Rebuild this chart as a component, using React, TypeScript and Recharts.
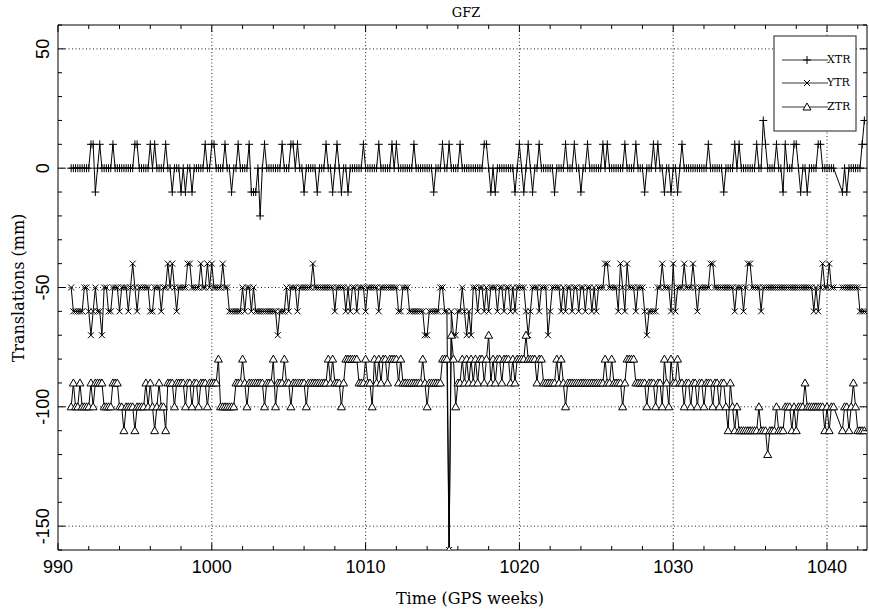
import { LineChart, Line, XAxis, YAxis, ReferenceLine } from "recharts";

// daily translation solutions (mm), one row per GPS week, first day = week 990 day 6
const FIRST_WEEK = 990 + 6 / 7;

const xtr = [
  0, 0, 0, 0, 0, 0, 0,
  0, 0, 10, 10, -10, 0, 10,
  0, 0, 0, 0, 0, 10, 0,
  0, 0, 0, 0, 0, 0, 0,
  0, 10, 10, 0, 0, 0, 0,
  0, 10, 0, 10, 0, 0, 0,
  0, 10, 0, 0, -10, 0, 0,
  0, -10, 0, -10, 0, 0, -10,
  0, 0, 0, 0, 0, 10, 0,
  0, 10, 10, 0, 0, 0, 0,
  10, 0, 0, -10, 0, 0, 10,
  0, 0, 0, 0, 10, -10, -10,
  -10, 0, -20, 0, 10, 0, 0,
  0, 0, 0, 0, 0, 10, 0,
  0, 0, 10, 10, 0, 10, 0,
  0, -10, 0, 0, 0, 0, 0,
  -10, 0, 0, 0, 10, 0, 0,
  -10, 0, 10, 0, -10, 0, 0,
  -10, 0, 0, 0, 0, 0, 0,
  10, 0, 0, 0, 0, 0, 0,
  10, 0, 0, 0, 0, 0, 10,
  0, 10, 0, 0, 0, 0, 0,
  0, 0, 10, 0, 0, 0, 0,
  0, 0, 0, 0, -10, 0, 0,
  0, 10, 0, 0, 10, 0, 0,
  0, 0, 10, 0, 0, 0, 0,
  0, 0, 0, 0, 0, 0, 10,
  10, 0, -10, 0, -10, 0, 0,
  0, 0, 0, 0, 0, 0, -10,
  0, 10, 0, -10, 0, 10, 0,
  -10, 0, 0, 10, 0, 0, 0,
  0, 0, 0, -10, 0, 0, 0,
  0, 10, 0, 0, 0, 10, 0,
  0, -10, 0, 0, 10, 0, 0,
  0, 0, 0, 0, 10, 0, 10,
  0, 0, 0, 0, 0, 0, 0,
  10, 0, 0, 0, 0, 10, 0,
  0, 0, -10, 0, 0, 0, 10,
  0, 10, 0, 0, -10, 0, 0,
  -10, 0, 0, -10, 0, 10, 0,
  0, 0, 0, 0, 0, 0, 0,
  0, 0, 0, 10, 0, 0, 0,
  0, 0, 0, -10, 0, 0, 0,
  0, 10, 0, 10, 0, 0, 0,
  0, 0, 0, 0, 10, 0, 0,
  20, 10, 0, 0, 0, 0, 10,
  0, 0, -10, 10, 0, 0, 0,
  10, 10, 0, -10, 0, 0, -10,
  0, 0, 0, 0, 10, 10, 0,
  0, 0, 0, 0, 0, null, null,
  null, -10, 0, -10, 0, 0, 0,
  0, 0, 0, 10, 20,
];

const ytr = [
  -50, -60, -60, -60, -60, -60, -50,
  -50, -60, -70, -60, -50, -60, -60,
  -70, -50, -50, -60, -60, -50, -50,
  -50, -60, -50, -50, -50, -60, -50,
  -40, -50, -60, -50, -50, -50, -50,
  -50, -60, -60, -50, -50, -50, -60,
  -50, -50, -40, -50, -40, -50, -60,
  -50, -50, -50, -50, -40, -40, -50,
  -50, -50, -50, -40, -50, -50, -40,
  -50, -40, -50, -50, -50, -50, -40,
  -50, -50, -60, -60, -60, -60, -60,
  -60, -50, -60, -50, -50, -60, -50,
  -60, -60, -60, -60, -60, -60, -60,
  -60, -60, -60, -70, -60, -60, -60,
  -50, -60, -50, -50, -50, -60, -50,
  -50, -50, -50, -50, -50, -40, -50,
  -50, -50, -50, -50, -50, -50, -50,
  -50, -60, -50, -50, -50, -50, -60,
  -50, -60, -50, -50, -60, -50, -50,
  -50, -60, -50, -50, -50, -50, -50,
  -60, -50, -50, -50, -50, -50, -50,
  -50, -50, -60, -60, -50, -50, -50,
  -60, -60, -60, -60, -60, -60, -60,
  -70, -70, -60, -60, -60, -60, -60,
  -50, -50, -60, -60, -160, -60, -70,
  -70, -60, -60, -50, -60, -70, -60,
  -70, -50, -50, -60, -50, -50, -60,
  -50, -60, -50, -50, -50, -60, -50,
  -50, -60, -50, -50, -60, -50, -60,
  -50, -50, -50, -50, -60, -70, -60,
  -50, -50, -50, -60, -50, -50, -50,
  -70, -60, -50, -50, -50, -50, -60,
  -50, -60, -50, -50, -60, -50, -50,
  -60, -50, -50, -60, -50, -50, -60,
  -50, -60, -50, -50, -50, -40, -40,
  -50, -50, -50, -50, -60, -40, -50,
  -60, -40, -50, -50, -50, -60, -50,
  -50, -50, -60, -70, -60, -60, -60,
  -60, -50, -50, -40, -50, -50, -50,
  -60, -40, -60, -50, -50, -50, -40,
  -50, -50, -50, -40, -50, -60, -50,
  -50, -50, -50, -50, -40, -40, -50,
  -50, -50, -50, -50, -50, -50, -50,
  -50, -60, -50, -50, -50, -60, -50,
  -40, -40, -50, -50, -50, -50, -60,
  -50, -50, -50, -50, -50, -50, -50,
  -50, -50, -50, -50, -50, -50, -50,
  -50, -50, -50, -50, -50, -50, -50,
  -50, -50, -60, -50, -60, -50, -40,
  -50, -50, -40, -50, -50, null, null,
  null, -50, -50, -50, -50, -50, -50,
  -50, -50, -60, -60, -60,
];

const ztr = [
  -100, -90, -100, -100, -90, -100, -100,
  -100, -100, -90, -100, -90, -90, -90,
  -90, -100, -100, -100, -100, -90, -90,
  -90, -100, -100, -110, -100, -100, -100,
  -100, -110, -100, -100, -100, -100, -90,
  -100, -90, -100, -110, -100, -90, -100,
  -100, -110, -90, -90, -90, -100, -90,
  -90, -90, -90, -100, -90, -90, -100,
  -90, -90, -100, -90, -90, -90, -100,
  -90, -90, -90, -90, -80, -100, -100,
  -100, -100, -100, -100, -100, -90, -90,
  -90, -80, -90, -100, -90, -90, -90,
  -90, -90, -90, -90, -100, -90, -90,
  -90, -80, -100, -90, -90, -90, -80,
  -90, -90, -100, -90, -90, -90, -90,
  -90, -90, -100, -90, -90, -90, -90,
  -90, -90, -90, -90, -90, -80, -90,
  -80, -90, -90, -90, -100, -90, -80,
  -80, -80, -80, -80, -80, -90, -90,
  -90, -80, -90, -90, -100, -80, -90,
  -80, -90, -80, -80, -90, -80, -80,
  -80, -80, -90, -80, -90, -90, -90,
  -90, -90, -90, -90, -90, -90, -80,
  -90, -100, -90, -90, -90, -90, -90,
  -90, -80, -80, -80, -160, -70, -80,
  -100, -90, -90, -80, -90, -80, -90,
  -80, -90, -80, -90, -80, -80, -90,
  -80, -70, -90, -80, -90, -80, -80,
  -90, -80, -80, -80, -90, -80, -90,
  -80, -80, -80, -80, -70, -80, -80,
  -80, -80, -90, -80, -80, -90, -90,
  -90, -90, -90, -90, -80, -90, -80,
  -90, -100, -90, -90, -90, -90, -90,
  -90, -90, -90, -90, -90, -90, -90,
  -90, -90, -90, -90, -90, -80, -90,
  -90, -80, -90, -90, -90, -90, -100,
  -90, -80, -80, -80, -80, -90, -90,
  -90, -90, -90, -100, -90, -90, -90,
  -100, -90, -90, -100, -80, -90, -100,
  -80, -90, -90, -80, -90, -90, -100,
  -90, -90, -100, -90, -90, -100, -90,
  -90, -100, -90, -90, -90, -100, -90,
  -90, -100, -90, -90, -100, -110, -90,
  -100, -110, -100, -110, -110, -110, -110,
  -110, -110, -110, -110, -110, -100, -110,
  -110, -110, -120, -110, -110, -110, -100,
  -110, -110, -110, -100, -100, -100, -110,
  -100, -110, -100, -100, -100, -90, -100,
  -100, -100, -100, -100, -100, -100, -100,
  -110, -100, -110, -100, -100, null, null,
  null, -110, -100, -100, -110, -100, -90,
  -100, -110, -110, -110, -110,
];

const xMajor = [990, 1000, 1010, 1020, 1030, 1040];
const xMinor = [990, 992, 994, 996, 998, 1000, 1002, 1004, 1006, 1008, 1010, 1012, 1014, 1016, 1018, 1020, 1022, 1024, 1026, 1028, 1030, 1032, 1034, 1036, 1038, 1040, 1042];
const yMajor = [-150, -100, -50, 0, 50];
const yMinor = [-160, -150, -140, -130, -120, -110, -100, -90, -80, -70, -60, -50, -40, -30, -20, -10, 0, 10, 20, 30, 40, 50, 60];

const data = xtr.map((v, i) => ({
  week: FIRST_WEEK + i / 7,
  xtr: v,
  ytr: ytr[i],
  ztr: ztr[i],
}));

const W = 869;
const H = 611;
const LEFT = 58;
const RIGHT = 867;
const TOP = 25;
const BOTTOM = 550;
const tickFont = "'Liberation Sans Narrow', 'Liberation Sans', Arial, sans-serif";
const textFont = "'DejaVu Serif', 'Liberation Serif', serif";

const plus = (p: any) =>
  p.cy == null ? <g key={`p${p.index}`} /> : (
    <path key={`p${p.index}`} d={`M${p.cx - 4},${p.cy}h8M${p.cx},${p.cy - 4}v8`} stroke="#000" strokeWidth={1} fill="none" />
  );
const cross = (p: any) =>
  p.cy == null ? <g key={`c${p.index}`} /> : (
    <path key={`c${p.index}`} d={`M${p.cx - 3},${p.cy - 3}l6,6M${p.cx - 3},${p.cy + 3}l6,-6`} stroke="#000" strokeWidth={1} fill="none" />
  );
const tri = (p: any) =>
  p.cy == null ? <g key={`t${p.index}`} /> : (
    <path key={`t${p.index}`} d={`M${p.cx},${p.cy - 4}L${p.cx + 4},${p.cy + 3}L${p.cx - 4},${p.cy + 3}Z`} stroke="#000" strokeWidth={1} fill="#fff" />
  );

const bottomTick = (p: any) => {
  const major = p.payload.value % 10 === 0;
  return (
    <g>
      <line x1={p.x} x2={p.x} y1={BOTTOM} y2={BOTTOM - (major ? 7 : 4)} stroke="#000" />
      {major && (
        <text x={p.x} y={BOTTOM + 23} textAnchor="middle" fontFamily={tickFont} fontSize={18} fill="#000">
          {p.payload.value}
        </text>
      )}
    </g>
  );
};
const topTick = (p: any) => {
  const major = p.payload.value % 10 === 0;
  return <line x1={p.x} x2={p.x} y1={TOP} y2={TOP + (major ? 7 : 4)} stroke="#000" />;
};
const leftTick = (p: any) => {
  const v = p.payload.value;
  const major = v % 50 === 0;
  return (
    <g>
      <line x1={LEFT} x2={LEFT + (major ? 7 : 4)} y1={p.y} y2={p.y} stroke="#000" />
      {major && (
        <text
          x={43}
          y={p.y}
          transform={`rotate(-90, 43, ${p.y})`}
          textAnchor="middle"
          dominantBaseline="central"
          fontFamily={tickFont}
          fontSize={18}
          fill="#000"
        >
          {v}
        </text>
      )}
    </g>
  );
};
const rightTick = (p: any) => {
  const major = p.payload.value % 50 === 0;
  return <line x1={RIGHT} x2={RIGHT - (major ? 7 : 4)} y1={p.y} y2={p.y} stroke="#000" />;
};

const legendRows = [
  { name: "XTR", y: 60, mark: "plus" },
  { name: "YTR", y: 83, mark: "cross" },
  { name: "ZTR", y: 107, mark: "tri" },
];

export default function App() {
  return (
    <div style={{ position: "absolute", left: 0, top: 0, width: W, height: H, background: "#fff" }}>
      <LineChart width={W} height={H} data={data} margin={{ top: 0, right: 0, bottom: 0, left: 0 }}>
        <XAxis xAxisId="b" dataKey="week" type="number" domain={[990, 1042.6]} ticks={xMinor} interval={0}
          height={H - BOTTOM} tick={bottomTick} tickLine={false} axisLine={{ stroke: "#000" }} allowDataOverflow />
        <XAxis xAxisId="t" orientation="top" dataKey="week" type="number" domain={[990, 1042.6]} ticks={xMinor} interval={0}
          height={TOP} tick={topTick} tickLine={false} axisLine={{ stroke: "#000" }} allowDataOverflow />
        <YAxis yAxisId="l" type="number" domain={[-160, 60]} ticks={yMinor} interval={0} width={LEFT}
          tick={leftTick} tickLine={false} axisLine={{ stroke: "#000" }} allowDataOverflow />
        <YAxis yAxisId="r" orientation="right" type="number" domain={[-160, 60]} ticks={yMinor} interval={0} width={W - RIGHT}
          tick={rightTick} tickLine={false} axisLine={{ stroke: "#000" }} allowDataOverflow />
        {xMajor.slice(1).map((v) => (
          <ReferenceLine key={`gx${v}`} xAxisId="b" yAxisId="l" x={v} stroke="#222" strokeDasharray="1 2.5" />
        ))}
        {yMajor.map((v) => (
          <ReferenceLine key={`gy${v}`} xAxisId="b" yAxisId="l" y={v} stroke="#222" strokeDasharray="1 2.5" />
        ))}
        <Line xAxisId="b" yAxisId="l" type="linear" dataKey="xtr" stroke="#000" strokeWidth={1} dot={plus}
          activeDot={false} connectNulls isAnimationActive={false} />
        <Line xAxisId="b" yAxisId="l" type="linear" dataKey="ytr" stroke="#000" strokeWidth={1} dot={cross}
          activeDot={false} connectNulls isAnimationActive={false} />
        <Line xAxisId="b" yAxisId="l" type="linear" dataKey="ztr" stroke="#000" strokeWidth={1} dot={tri}
          activeDot={false} connectNulls isAnimationActive={false} />
      </LineChart>
      <svg width={W} height={H} style={{ position: "absolute", left: 0, top: 0, pointerEvents: "none" }}>
        <text x={466} y={17} textAnchor="middle" fontFamily={textFont} fontSize={13}>GFZ</text>
        <text x={470} y={604} textAnchor="middle" fontFamily={textFont} fontSize={16}>Time (GPS weeks)</text>
        <text x={18} y={288} transform="rotate(-90, 18, 288)" textAnchor="middle" dominantBaseline="central"
          fontFamily={textFont} fontSize={16}>Translations (mm)</text>
        <rect x={774} y={36} width={82} height={95} fill="#fff" stroke="#444" strokeWidth={1.2} />
        {legendRows.map((r) => (
          <g key={r.name}>
            <line x1={782} x2={828} y1={r.y} y2={r.y} stroke="#000" strokeWidth={0.8} />
            {r.mark === "plus" && plus({ cx: 807, cy: r.y, index: r.name })}
            {r.mark === "cross" && cross({ cx: 807, cy: r.y, index: r.name })}
            {r.mark === "tri" && tri({ cx: 807, cy: r.y, index: r.name })}
            <text x={827} y={r.y + 3} fontFamily={textFont} fontSize={11}>{r.name}</text>
          </g>
        ))}
      </svg>
    </div>
  );
}
